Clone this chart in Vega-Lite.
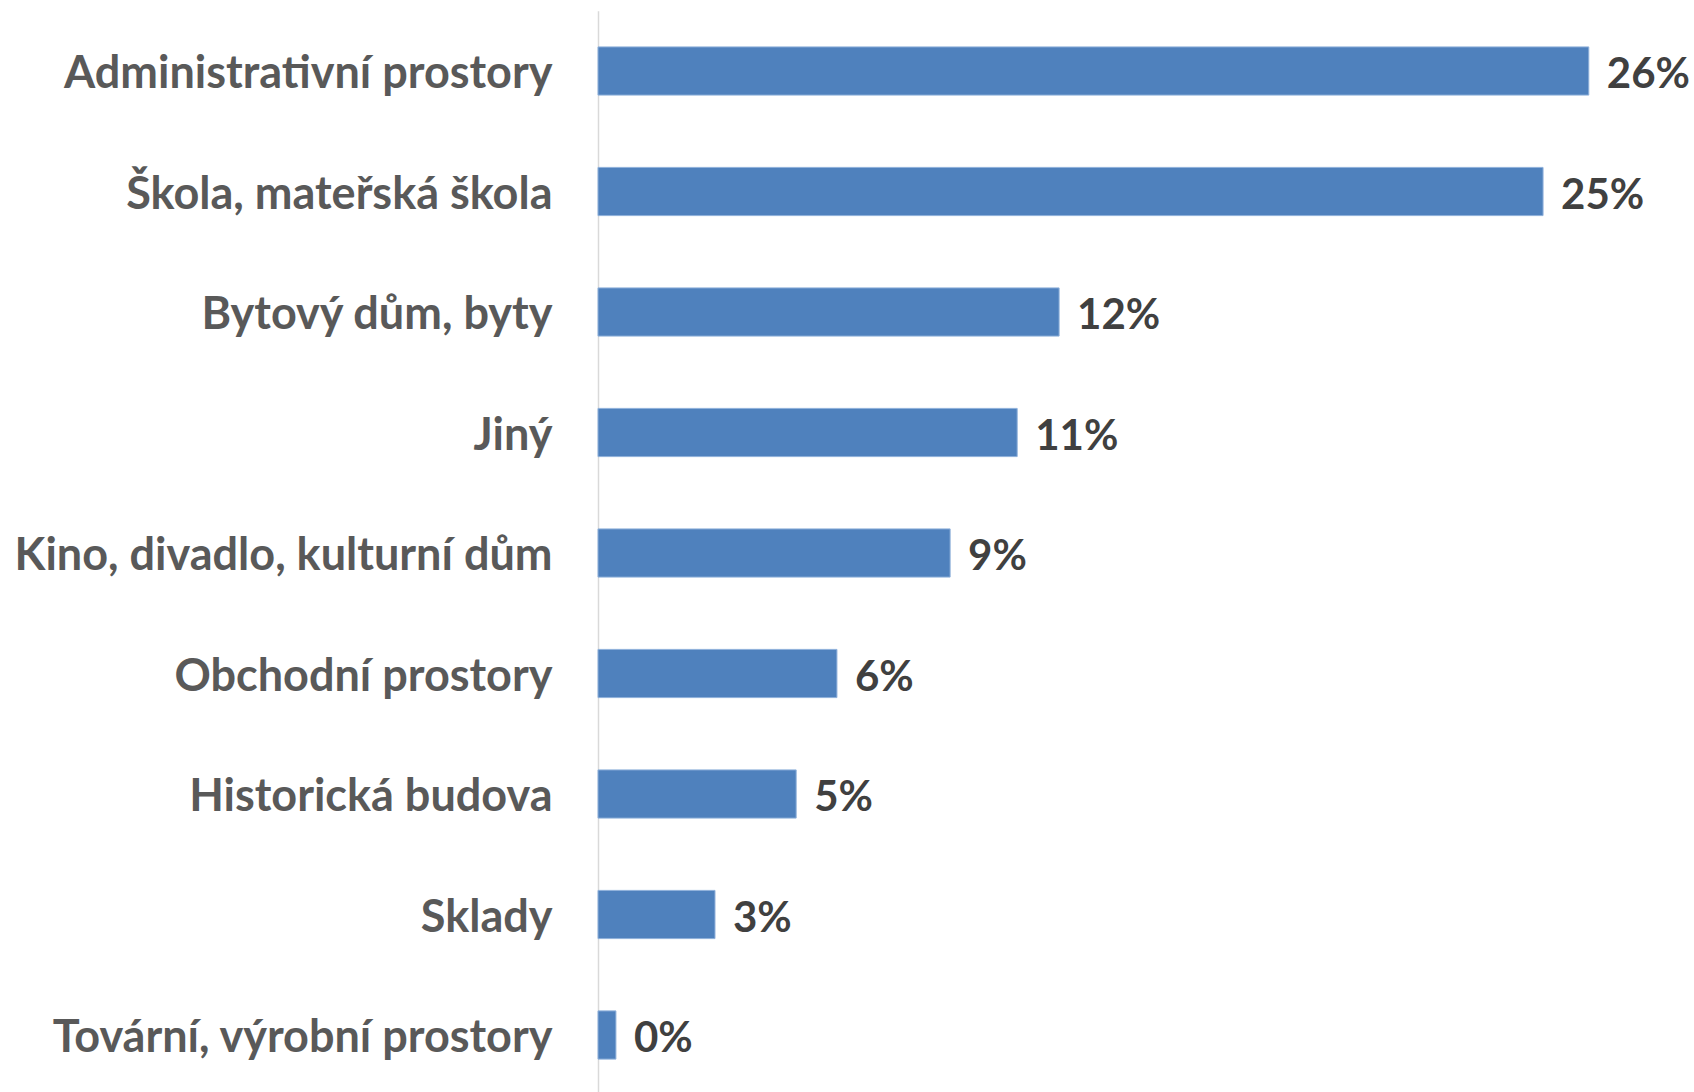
{
  "$schema": "https://vega.github.io/schema/vega-lite/v6.json",
  "autosize": {"type": "none"},
  "width": 1067,
  "height": 1084.5,
  "padding": {"left": 598, "top": 10.75, "right": 29, "bottom": 0},
  "background": "white",
  "config": {"view": {"stroke": null}},
  "data": {
    "values": [
      {"kategorie": "Administrativní prostory", "podil": 0.260},
      {"kategorie": "Škola, mateřská škola", "podil": 0.248},
      {"kategorie": "Bytový dům, byty", "podil": 0.121},
      {"kategorie": "Jiný", "podil": 0.110},
      {"kategorie": "Kino, divadlo, kulturní dům", "podil": 0.0924},
      {"kategorie": "Obchodní prostory", "podil": 0.0627},
      {"kategorie": "Historická budova", "podil": 0.052},
      {"kategorie": "Sklady", "podil": 0.0307},
      {"kategorie": "Tovární, výrobní prostory", "podil": 0.0047}
    ]
  },
  "encoding": {
    "y": {
      "field": "kategorie",
      "type": "nominal",
      "sort": null,
      "scale": {"paddingInner": 0.6, "paddingOuter": 0.3},
      "axis": {
        "title": null,
        "ticks": false,
        "labelPadding": 46,
        "labelOffset": 3,
        "labelFont": "Lato",
        "labelFontWeight": "bold",
        "labelFontSize": 45,
        "labelColor": "#595959",
        "labelLimit": 0,
        "domainColor": "#d9d9d9",
        "domainWidth": 1.5
      }
    },
    "x": {
      "field": "podil",
      "type": "quantitative",
      "scale": {"domain": [0, 0.28], "nice": false},
      "axis": null
    }
  },
  "layer": [
    {
      "mark": {"type": "bar", "color": "#4f81bd", "stroke": "#8eb0da", "strokeWidth": 1}
    },
    {
      "mark": {
        "type": "text",
        "align": "left",
        "baseline": "middle",
        "dx": 18,
        "dy": 4,
        "font": "Lato",
        "fontWeight": "bold",
        "fontSize": 42,
        "color": "#404040"
      },
      "encoding": {
        "text": {"field": "podil", "type": "quantitative", "format": ".0%"}
      }
    }
  ]
}
